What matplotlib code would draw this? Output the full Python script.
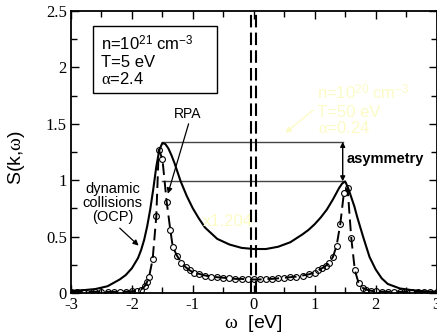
import matplotlib
matplotlib.use("Agg")
import matplotlib.pyplot as plt
from matplotlib.patches import Rectangle

plt.rcParams["font.family"] = ["Liberation Sans", "DejaVu Sans"]
plt.rcParams["mathtext.fontset"] = "custom"
plt.rcParams["mathtext.rm"] = "Liberation Sans"
plt.rcParams["mathtext.it"] = "Liberation Serif"

# dynamic collisions (OCP), solid curve
omega_dc = [-3.0, -2.8, -2.6, -2.4, -2.2, -2.1, -2.0, -1.9, -1.85, -1.8,
            -1.75, -1.7, -1.65, -1.6, -1.55, -1.5, -1.45, -1.4, -1.35, -1.3,
            -1.2, -1.1, -1.0, -0.9, -0.8, -0.6, -0.4, -0.2, 0.0, 0.2,
            0.4, 0.6, 0.8, 0.9, 1.0, 1.1, 1.2, 1.3, 1.35, 1.4,
            1.45, 1.5, 1.55, 1.6, 1.65, 1.7, 1.75, 1.8, 1.9, 2.0,
            2.1, 2.2, 2.4, 2.6, 2.8, 3.0]
s_dc = [0.02, 0.025, 0.035, 0.06, 0.12, 0.16, 0.22, 0.31, 0.38, 0.47,
        0.59, 0.74, 0.92, 1.12, 1.27, 1.33, 1.32, 1.28, 1.22, 1.15,
        0.99, 0.86, 0.75, 0.66, 0.58, 0.48, 0.43, 0.40, 0.39, 0.39,
        0.41, 0.45, 0.52, 0.56, 0.61, 0.67, 0.74, 0.83, 0.88, 0.93,
        0.97, 0.99, 0.93, 0.85, 0.77, 0.67, 0.58, 0.49, 0.32, 0.21,
        0.13, 0.08, 0.04, 0.025, 0.015, 0.01]

# RPA, dashed curve with open circles
omega_rpa = [-3.0, -2.9, -2.8, -2.7, -2.6, -2.5, -2.4, -2.3, -2.2, -2.1,
             -2.0, -1.92, -1.85, -1.79, -1.75, -1.72, -1.66, -1.6, -1.56, -1.5,
             -1.43, -1.37, -1.33, -1.26, -1.19, -1.12, -1.05, -0.98, -0.9, -0.8,
             -0.7, -0.6, -0.5, -0.4, -0.3, -0.2, -0.1, 0.0, 0.1, 0.2,
             0.3, 0.4, 0.5, 0.6, 0.7, 0.8, 0.9, 1.0, 1.06, 1.12,
             1.18, 1.24, 1.3, 1.36, 1.42, 1.48, 1.54, 1.6, 1.66, 1.72,
             1.79, 1.85, 1.92, 2.0, 2.1, 2.2, 2.3, 2.4, 2.5, 2.6,
             2.7, 2.8, 2.9, 3.0]
s_rpa = [0.01, 0.01, 0.01, 0.01, 0.01, 0.01, 0.01, 0.01, 0.01, 0.012,
         0.015, 0.02, 0.03, 0.06, 0.10, 0.14, 0.30, 0.68, 1.27, 1.19,
         0.81, 0.56, 0.41, 0.33, 0.27, 0.23, 0.20, 0.18, 0.17, 0.155,
         0.145, 0.14, 0.135, 0.13, 0.125, 0.125, 0.12, 0.12, 0.12, 0.125,
         0.125, 0.13, 0.135, 0.14, 0.145, 0.155, 0.165, 0.18, 0.20, 0.22,
         0.24, 0.27, 0.32, 0.42, 0.61, 0.89, 0.93, 0.49, 0.20, 0.09,
         0.045, 0.03, 0.02, 0.015, 0.012, 0.01, 0.01, 0.01, 0.01, 0.01,
         0.01, 0.01, 0.01, 0.01]

# peak heights used for the asymmetry marker
asym_levels = [1.34, 0.99]
asym_x = [-1.5, 1.47]
# the two vertical dashed lines near omega = 0
vlines_x = [-0.05, 0.03]

x_ticks = [-3, -2, -1, 0, 1, 2, 3]
x_minor = [-2.5, -1.5, -0.5, 0.5, 1.5, 2.5]
x_labels = ["-3", "-2", "-1", "0", "1", "2", "3"]
y_ticks = [0, 0.5, 1, 1.5, 2, 2.5]
y_minor = [0.25, 0.75, 1.25, 1.75, 2.25]
y_labels = ["0", "0.5", "1", "1.5", "2", "2.5"]

fig = plt.figure(figsize=(4.37, 3.35), dpi=100)
ax = fig.add_axes([0.1625, 0.1254, 0.8364, 0.8416])

for lev in asym_levels:
    ax.plot(asym_x, [lev, lev], color="#444444", lw=1.0)

for xv in vlines_x:
    ax.plot([xv, xv], [0, 2.5], color="black", lw=1.5, ls=(0, (6, 2.5)))

ax.plot(omega_dc, s_dc, color="black", lw=1.5)
ax.plot(omega_rpa, s_rpa, color="black", lw=1.4, ls=(0, (6, 3)),
        marker="o", ms=4.2, mfc="none", mec="black", mew=0.8)

ax.set_xlim(-3, 3)
ax.set_ylim(0, 2.5)
ax.set_xticks(x_ticks, x_labels, family="Liberation Serif", fontsize=12)
ax.set_xticks(x_minor, minor=True)
ax.set_yticks(y_ticks, y_labels, family="Liberation Serif", fontsize=12)
ax.set_yticks(y_minor, minor=True)
ax.tick_params(which="both", direction="in", top=True, right=True, width=1.0)
ax.tick_params(which="major", length=6, pad=3)
ax.tick_params(which="minor", length=4)
for sp in ax.spines.values():
    sp.set_linewidth(1.3)

ax.set_xlabel(r"$\omega$  [eV]", fontsize=14)
ax.set_ylabel(r"S(k,$\omega$)", fontsize=14)
ax.xaxis.set_label_coords(0.5, -0.07)
ax.yaxis.set_label_coords(-0.12, 0.48)

# parameter box
ax.add_patch(Rectangle((-2.64, 1.77), 2.03, 0.6, fill=False, ec="black", lw=1.0))
ax.text(-2.51, 2.15, r"n=10$^{21}$ cm$^{-3}$", fontsize=12)
ax.text(-2.51, 2.0, "T=5 eV", fontsize=12)
ax.text(-2.51, 1.85, r"$\alpha$=2.4", fontsize=12)

# faint (nearly invisible) second parameter set
faint = "#fcfbc6"
ax.text(1.03, 1.72, r"n=10$^{20}$ cm$^{-3}$", fontsize=12, color=faint)
ax.text(1.04, 1.56, "T=50 eV", fontsize=12, color=faint)
ax.text(1.06, 1.42, r"$\alpha$=0.24", fontsize=12, color=faint)
ax.annotate("", xy=(0.52, 1.42), xytext=(0.97, 1.62),
            arrowprops=dict(arrowstyle="-|>", color=faint, lw=1.0,
                            mutation_scale=8, shrinkA=0, shrinkB=0))
ax.text(-0.84, 0.59, "x1.204", fontsize=12, color=faint)

# curve labels
ax.text(-1.08, 1.55, "RPA", fontsize=10, ha="center")
ax.annotate("", xy=(-1.41, 0.88), xytext=(-1.07, 1.50),
            arrowprops=dict(arrowstyle="-|>", color="black", lw=0.9,
                            mutation_scale=8, shrinkA=0, shrinkB=0))
ax.text(-2.32, 0.80, "dynamic\ncollisions\n(OCP)", fontsize=10.5,
        ha="center", va="center", linespacing=1.0)
ax.annotate("", xy=(-1.89, 0.42), xytext=(-2.2, 0.575),
            arrowprops=dict(arrowstyle="-|>", color="black", lw=0.9,
                            mutation_scale=8, shrinkA=0, shrinkB=0))

ax.annotate("", xy=(1.46, asym_levels[0]), xytext=(1.46, asym_levels[1]),
            arrowprops=dict(arrowstyle="<|-|>", color="black", lw=1.0,
                            mutation_scale=7, shrinkA=0, shrinkB=0))
ax.text(1.53, 1.19, "asymmetry", fontsize=10.5, fontweight="bold", va="center")

fig.savefig("out.png", dpi=100)
